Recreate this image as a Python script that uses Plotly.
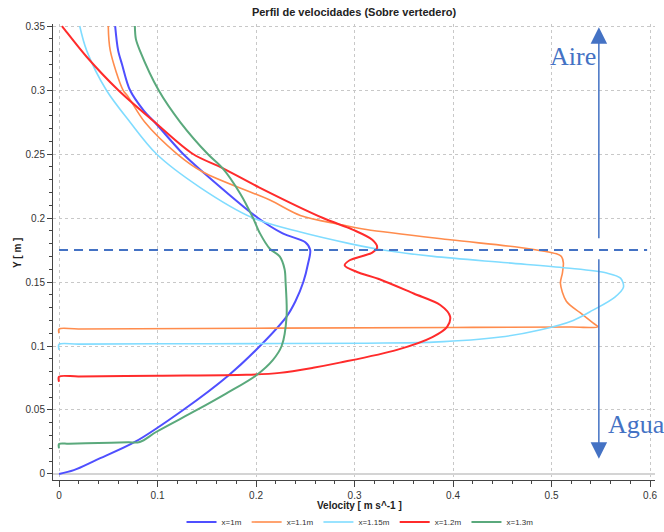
import plotly.graph_objects as go

# ---------------- data (Y [m], velocity [m/s]) ----------------
blue_y = [0.35, 0.331, 0.32, 0.3, 0.284, 0.275, 0.25, 0.236, 0.2, 0.188, 0.181, 0.175, 0.165, 0.15, 0.135,
          0.123, 0.1, 0.077, 0.05, 0.025, 0.011, 0.003, 0.0]
blue_v = [0.057, 0.060, 0.064, 0.072, 0.086, 0.097, 0.126, 0.146, 0.202, 0.227, 0.250, 0.255, 0.253, 0.248, 0.240,
          0.231, 0.204, 0.172, 0.126, 0.077, 0.038, 0.015, 0.0]

orange_y = [0.35, 0.331, 0.3, 0.295, 0.275, 0.25, 0.236, 0.214, 0.202, 0.195, 0.191, 0.183, 0.177, 0.172,
            0.170, 0.165, 0.157, 0.149, 0.135, 0.126, 0.118, 0.115, 0.1148, 0.1145, 0.1133, 0.1132, 0.110]
orange_v = [0.050, 0.052, 0.065, 0.070, 0.087, 0.120, 0.146, 0.214, 0.245, 0.285, 0.312, 0.397, 0.468, 0.505,
            0.510, 0.512, 0.511, 0.509, 0.515, 0.529, 0.542, 0.547, 0.52, 0.40, 0.02, 0.0, 0.0]

lblue_y = [0.35, 0.331, 0.3, 0.275, 0.25, 0.224, 0.2, 0.189, 0.180, 0.175, 0.170, 0.165, 0.161, 0.157, 0.153,
           0.146, 0.138, 0.128, 0.120, 0.1125, 0.107, 0.103, 0.1022, 0.1018, 0.1015, 0.1013, 0.097]
lblue_v = [0.021, 0.028, 0.048, 0.072, 0.099, 0.143, 0.197, 0.245, 0.295, 0.329, 0.380, 0.455, 0.515, 0.556, 0.570,
           0.573, 0.564, 0.542, 0.522, 0.488, 0.448, 0.380, 0.312, 0.15, 0.02, 0.0, 0.0]

red_y = [0.35, 0.347, 0.326, 0.3, 0.275, 0.25, 0.239, 0.224, 0.2, 0.191, 0.183, 0.177, 0.173, 0.167, 0.163,
         0.158, 0.152, 0.141, 0.132, 0.123, 0.115, 0.107, 0.097, 0.087, 0.083, 0.079, 0.0775, 0.0768, 0.0762,
         0.076, 0.072]
red_v = [0.003, 0.006, 0.028, 0.060, 0.097, 0.136, 0.166, 0.203, 0.268, 0.298, 0.318, 0.323, 0.318, 0.295, 0.290,
         0.302, 0.326, 0.360, 0.387, 0.397, 0.394, 0.379, 0.343, 0.285, 0.258, 0.224, 0.19, 0.10, 0.02,
         0.0, 0.0]

green_y = [0.35, 0.34, 0.331, 0.3, 0.275, 0.25, 0.239, 0.219, 0.2, 0.188, 0.176, 0.170, 0.16, 0.15, 0.123, 0.1,
           0.089, 0.077, 0.063, 0.05, 0.033, 0.025, 0.0247, 0.0242, 0.0236, 0.0234, 0.020]
green_v = [0.077, 0.078, 0.082, 0.101, 0.123, 0.151, 0.166, 0.184, 0.197, 0.204, 0.214, 0.224, 0.229, 0.230, 0.231,
           0.226, 0.217, 0.200, 0.170, 0.140, 0.099, 0.082, 0.07, 0.04, 0.01, 0.0, 0.0]

series_names = ["x=1m", "x=1.1m", "x=1.15m", "x=1.2m", "x=1.3m"]
series_colors = ["#4f4fff", "#ff8c4d", "#80dcff", "#ff2b2b", "#5aa97c"]
series_widths = [2, 1.6, 1.6, 2, 2]

interface_y = 0.175
interface_x = [0.0, 0.597]
arrow_x = 0.548
aire_arrow = [0.183, 0.349]
agua_arrow = [0.169, 0.012]
aire_label = (0.522, 0.326)
agua_label = (0.586, 0.039)

x_ticks = [0, 0.1, 0.2, 0.3, 0.4, 0.5, 0.6]
y_ticks = [0, 0.05, 0.1, 0.15, 0.2, 0.25, 0.3, 0.35]

x_title = "Velocity [ m s^-1 ]"
y_title = "Y [ m ]"

# ---------------- figure ----------------
fig = go.Figure()
data = [(blue_v, blue_y), (orange_v, orange_y), (lblue_v, lblue_y), (red_v, red_y), (green_v, green_y)]
for (v, y), name, col, w in zip(data, series_names, series_colors, series_widths):
    fig.add_trace(go.Scatter(x=v, y=y, mode="lines", name=name,
                             line=dict(color=col, width=w, shape="spline", smoothing=0.9),
                             cliponaxis=True))

ac = "#4472C4"
fig.add_shape(type="line", x0=interface_x[0], x1=interface_x[1], y0=interface_y, y1=interface_y,
              xref="x", yref="y", line=dict(color=ac, width=2, dash="9px,6px"))

for arr in (aire_arrow, agua_arrow):
    fig.add_annotation(x=arrow_x, y=arr[1], ax=arrow_x, ay=arr[0], xref="x", yref="y",
                       axref="x", ayref="y", text="", showarrow=True, arrowhead=2,
                       arrowsize=2.2, arrowwidth=1.5, arrowcolor=ac, standoff=0, startstandoff=0)

fig.add_annotation(x=aire_label[0], y=aire_label[1], xref="x", yref="y", text="Aire", showarrow=False,
                   font=dict(family="Liberation Serif, Times New Roman, serif", size=26, color=ac))
fig.add_annotation(x=agua_label[0], y=agua_label[1], xref="x", yref="y", text="Agua", showarrow=False,
                   font=dict(family="Liberation Serif, Times New Roman, serif", size=26, color=ac))

title_font = dict(family="Liberation Sans, Arial", size=10, color="#222")
fig.add_annotation(x=(359 - 53) / 602, y=(480 - 505) / 456, xref="paper", yref="paper",
                   text="<b>" + x_title + "</b>",
                   showarrow=False, font=title_font, xanchor="center", yanchor="middle")
fig.add_annotation(x=(17 - 53) / 602, y=(480 - 253) / 456, xref="paper", yref="paper",
                   text="<b>" + y_title + "</b>", textangle=-90,
                   showarrow=False, font=title_font, xanchor="center", yanchor="middle")

tick_font = dict(family="Liberation Sans Narrow, Arial Narrow, Liberation Sans, Arial", size=10, color="#333")
grid = dict(showgrid=True, gridcolor="#c8c8c8", griddash="dot", gridwidth=1)

fig.update_layout(
    width=664, height=532,
    margin=dict(l=53, r=9, t=24, b=52, autoexpand=False),
    paper_bgcolor="white", plot_bgcolor="white",
    title=dict(text="<b>Perfil de velocidades (Sobre vertedero)</b>", x=0.5, xref="paper",
               y=1 - 12 / 532, yref="container", yanchor="middle",
               font=dict(family="Liberation Sans, Arial", size=11, color="#222")),
    xaxis=dict(range=[-0.0061, 0.605], tickvals=x_ticks, ticktext=[str(t) for t in x_ticks],
               showline=True, linecolor="#444", linewidth=1, ticks="outside", ticklen=6,
               tickcolor="#444", tickfont=tick_font, zeroline=False, automargin=False,
               minor=dict(dtick=0.02, ticks="outside", ticklen=3, tickcolor="#444", showgrid=False),
               **grid),
    yaxis=dict(range=[-0.0047, 0.3516], tickvals=y_ticks, ticktext=[str(t) for t in y_ticks],
               showline=True, linecolor="#444", linewidth=1, ticks="outside", ticklen=5,
               tickcolor="#444", tickfont=tick_font, zeroline=True, zerolinecolor="#d4d4d4",
               zerolinewidth=2, automargin=False,
               minor=dict(dtick=0.01, ticks="outside", ticklen=3, tickcolor="#444", showgrid=False),
               **grid),
    legend=dict(orientation="h", x=0.51, xanchor="center", xref="paper",
                y=1 - 522 / 532, yref="container", yanchor="middle",
                font=dict(family="Liberation Sans, Arial", size=8, color="#333"),
                itemwidth=30, tracegroupgap=0, bgcolor="rgba(0,0,0,0)"),
    showlegend=True,
)

fig.write_html("out.html")
